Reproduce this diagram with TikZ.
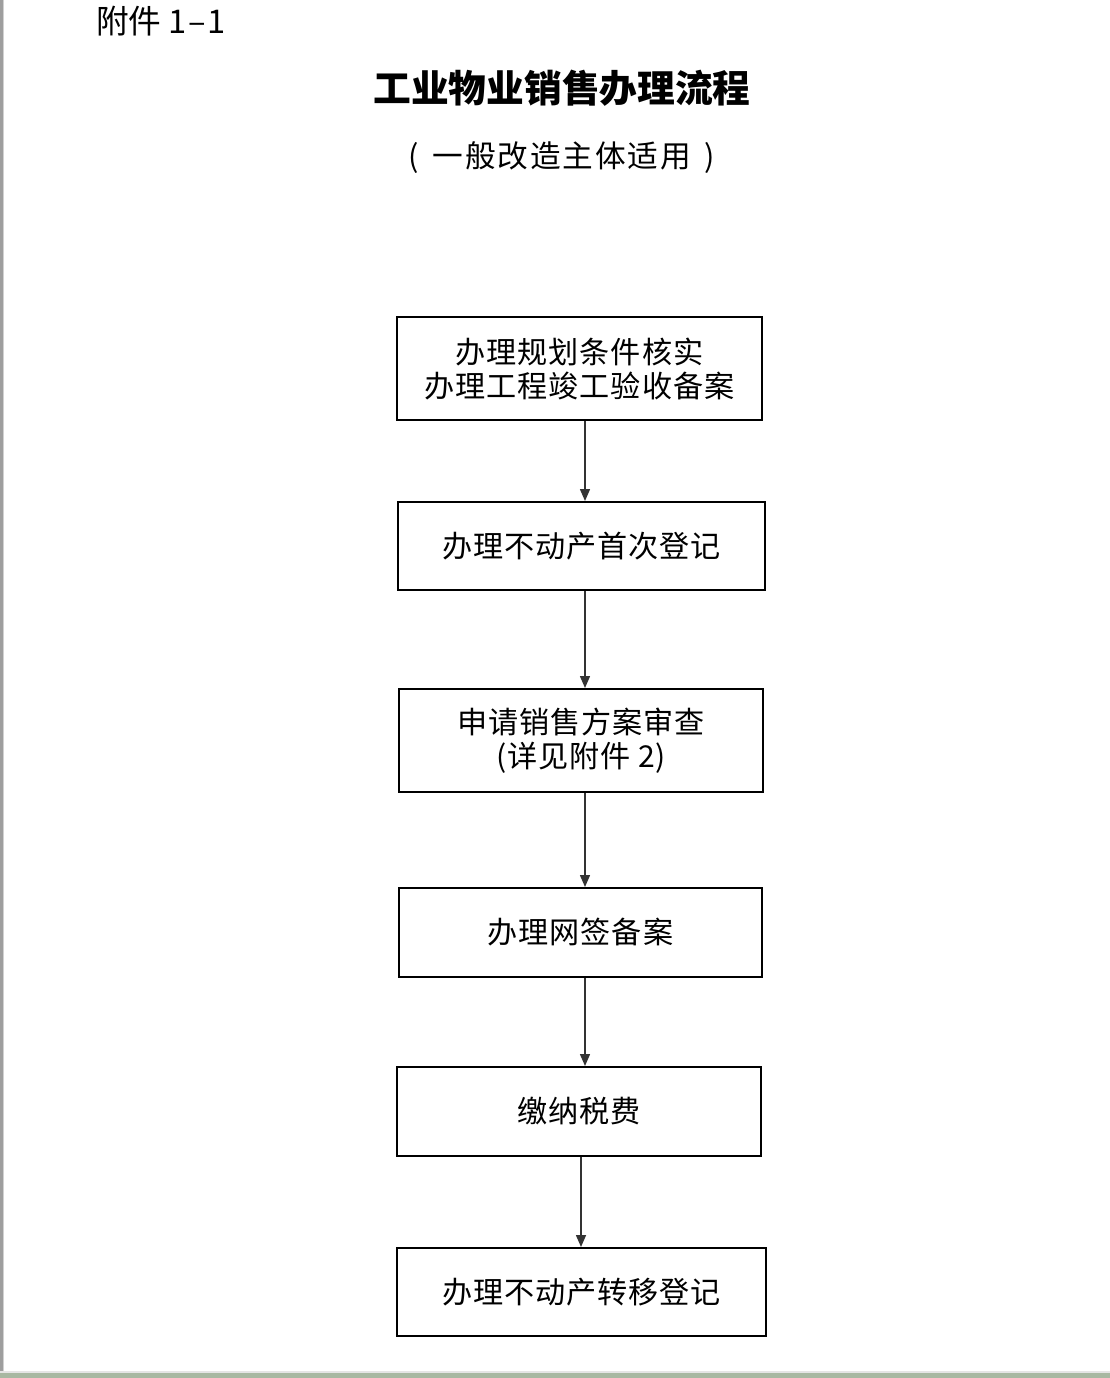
\documentclass[tikz,border=0pt]{standalone}
\usepackage{fontspec}
\setmainfont{Noto Sans CJK SC}
\usetikzlibrary{arrows.meta,shadows}
\definecolor{bandgreen}{RGB}{168,184,162}
\tikzset{
  box/.style={draw=black, line width=1.5pt, fill=white, align=center,
    inner sep=0pt, font=\fontsize{22.6}{25.5}\selectfont\addfontfeatures{LetterSpace=3},
    drop shadow={shadow xshift=0.6pt, shadow yshift=-0.9pt, fill=black!45, opacity=1}},
  arr/.style={draw=black!80, line width=1.1pt, -{Triangle[width=7.5pt,length=9pt]}},
}
\begin{document}
\begin{tikzpicture}[x=0.75pt,y=-0.75pt]
\useasboundingbox (0,0) rectangle (1110,1378);
\fill[white] (0,0) rectangle (1110,1378);
% page edges
\fill[black!38] (0,0) rectangle (3,1378);
\fill[black!18] (3,0) rectangle (4,1378);
\fill[black!10] (0,1371) rectangle (1110,1373);
\fill[bandgreen] (0,1373) rectangle (1110,1378);
% header and titles
\node[anchor=west, inner sep=0pt, font=\fontsize{24.5}{26}\selectfont] (hdr) at (96,21) {附件 1\hspace{1pt}–\hspace{1pt}1};
\node[inner sep=0pt, font=\fontsize{28.3}{30}\selectfont\bfseries] (title) at (562,88) {工业物业销售办理流程};
\node[inner sep=0pt, font=\fontsize{23}{25}\selectfont] (sub) at (562,158) {(\hspace{0.45em}{\addfontfeatures{LetterSpace=6}一般改造主体适用}\hspace{0.45em})};
% boxes
\node[box, minimum width=273.75pt, minimum height=77.25pt] (b1) at (579.5,368.5) {办理规划条件核实\\办理工程竣工验收备案};
\node[box, minimum width=275.25pt, minimum height=66pt] (b2) at (581.5,546) {办理不动产首次登记};
\node[box, minimum width=273pt, minimum height=77.25pt] (b3) at (581,740.5) {申请销售方案审查\\(详见附件 2)};
\node[box, minimum width=272.25pt, minimum height=66.75pt] (b4) at (580.5,932.5) {办理网签备案};
\node[box, minimum width=273pt, minimum height=66.75pt] (b5) at (579,1111.5) {缴纳税费};
\node[box, minimum width=276.75pt, minimum height=66pt] (b6) at (581.5,1292) {办理不动产转移登记};
% arrows
\coordinate (xa) at (585,0);
\coordinate (xb) at (581,0);
\draw[arr] (xa |- b1.south) -- (xa |- b2.north);
\draw[arr] (xa |- b2.south) -- (xa |- b3.north);
\draw[arr] (xa |- b3.south) -- (xa |- b4.north);
\draw[arr] (xa |- b4.south) -- (xa |- b5.north);
\draw[arr] (xb |- b5.south) -- (xb |- b6.north);
\end{tikzpicture}
\end{document}
